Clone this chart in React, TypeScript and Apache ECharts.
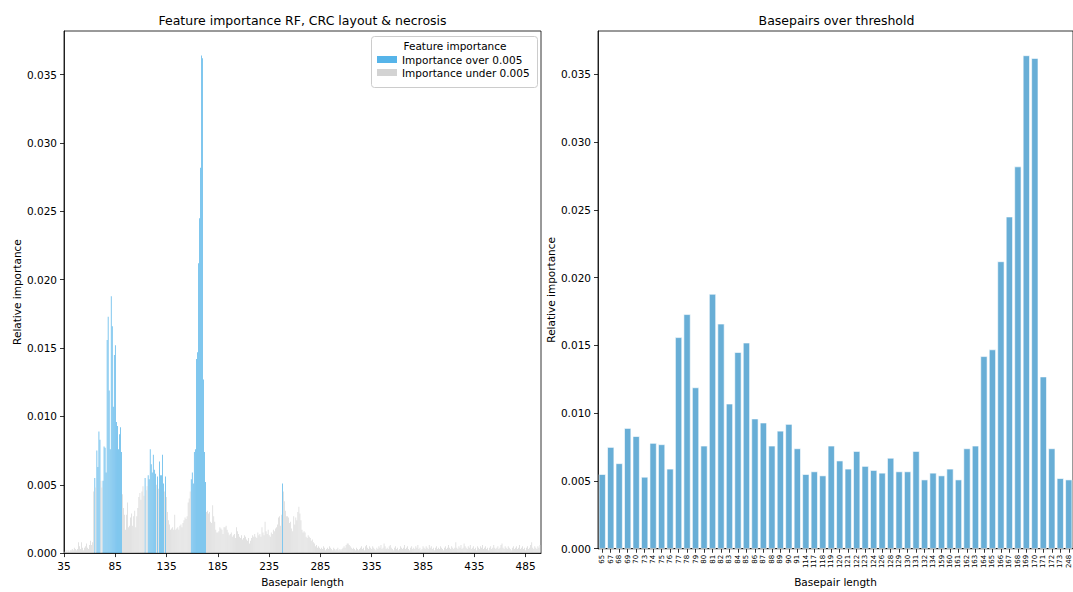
import React, { useEffect, useRef } from "react";
import * as echarts from "echarts";

// Basepair lengths whose importance is over 0.005 (shown blue on the left, and as the right chart)
const overLengths = [
  65, 67, 68, 69, 70, 73, 74, 75, 76, 77, 78, 79, 80, 81, 82, 83, 84, 85, 86, 87, 88, 89, 90, 91,
  114, 117, 118, 119, 120, 121, 122, 123, 124, 126, 128, 129, 130, 131, 132, 134,
  159, 160, 161, 162, 163, 164, 165, 166, 167, 168, 169, 170, 171, 172, 173, 248,
];
const overValues = [
  0.0055, 0.0075, 0.0063, 0.0089, 0.0083, 0.0053, 0.0078, 0.0077, 0.0059, 0.0156, 0.0173, 0.0119,
  0.0076, 0.0188, 0.0166, 0.0107, 0.0145, 0.0152, 0.0096, 0.0093, 0.0076, 0.0087, 0.0092, 0.0074,
  0.0055, 0.0057, 0.0054, 0.0076, 0.0065, 0.0059, 0.0072, 0.0061, 0.0058, 0.0056, 0.0067, 0.0057,
  0.0057, 0.0072, 0.0051, 0.0056, 0.0054, 0.0059, 0.0051, 0.0074, 0.0076, 0.0142, 0.0147, 0.0212,
  0.0245, 0.0282, 0.0364, 0.0362, 0.0127, 0.0074, 0.0052, 0.0051,
];

// Importance under 0.005, one value per basepair length from 35 to 499 (null where over)
const underStart = 35;
const underValues = [
  // 35-44
  0.0001, 0.0001, 0.0002, 0.0001, 0.0002, 0.0001, 0.0002, 0.0002, 0.0003, 0.0002,
  // 45-54
  0.0004, 0.0003, 0.0002, 0.0003, 0.0008, 0.0005, 0.0003, 0.0008, 0.0004, 0.0002,
  // 55-64
  0.0004, 0.0005, 0.0007, 0.0004, 0.0003, 0.0006, 0.0009, 0.0006, 0.0008, 0.0045,
  // 65-74
  null, 0.0048, null, null, null, null, 0.0053, 0.0048, null, null,
  // 75-84
  null, null, null, null, null, null, null, null, null, null,
  // 85-94
  null, null, null, null, null, null, null, 0.0043, 0.0033, 0.0028,
  // 95-104
  0.0017, 0.0028, 0.0037, 0.0019, 0.002, 0.0026, 0.0029, 0.002, 0.0027, 0.0031,
  // 105-114
  0.0019, 0.0027, 0.0033, 0.0041, 0.0044, 0.0039, 0.0045, 0.0049, 0.0042, null,
  // 115-124
  0.0046, 0.0049, null, null, null, null, null, null, null, null,
  // 125-134
  0.005, null, 0.0047, null, null, null, null, null, 0.0045, null,
  // 135-144
  0.0041, 0.003, 0.0024, 0.0021, 0.0017, 0.0018, 0.0019, 0.0017, 0.0028, 0.0017,
  // 145-154
  0.0018, 0.0019, 0.0017, 0.002, 0.0021, 0.0019, 0.0022, 0.0024, 0.0026, 0.0025,
  // 155-164
  0.0027, 0.0037, 0.004, 0.0045, null, null, null, null, null, null,
  // 165-174
  null, null, null, null, null, null, null, null, null, 0.003,
  // 175-184
  0.0031, 0.0029, 0.003, 0.0023, 0.0022, 0.0035, 0.0027, 0.0023, 0.0017, 0.0015,
  // 185-194
  0.0015, 0.0016, 0.0019, 0.0018, 0.0017, 0.0014, 0.0019, 0.0019, 0.002, 0.0017,
  // 195-204
  0.0015, 0.0013, 0.0014, 0.0015, 0.0012, 0.0013, 0.0014, 0.0011, 0.0019, 0.0016,
  // 205-214
  0.0014, 0.0012, 0.0011, 0.0013, 0.001, 0.0011, 0.0013, 0.0012, 0.001, 0.0009,
  // 215-224
  0.0011, 0.0007, 0.0009, 0.0011, 0.0013, 0.0012, 0.0014, 0.0012, 0.0011, 0.0015,
  // 225-234
  0.0013, 0.0014, 0.0012, 0.0019, 0.0015, 0.0013, 0.0023, 0.0016, 0.0014, 0.0017,
  // 235-244
  0.0013, 0.0012, 0.0015, 0.0014, 0.0017, 0.0016, 0.0018, 0.0019, 0.0021, 0.0026,
  // 245-254
  0.0027, 0.002, 0.0028, null, 0.0045, 0.0038, 0.0031, 0.0027, 0.0027, 0.0026,
  // 255-264
  0.0022, 0.0023, 0.0018, 0.0016, 0.0027, 0.0021, 0.0026, 0.0024, 0.003, 0.0034,
  // 265-274
  0.0029, 0.0024, 0.0017, 0.0015, 0.0016, 0.0015, 0.0012, 0.0011, 0.0013, 0.0012,
  // 275-284
  0.0011, 0.0009, 0.001, 0.0008, 0.0007, 0.0005, 0.0006, 0.0004, 0.0005, 0.0004,
  // 285-294
  0.0003, 0.0004, 0.0003, 0.0005, 0.0004, 0.0002, 0.0003, 0.0004, 0.0003, 0.0005,
  // 295-304
  0.0004, 0.0003, 0.0002, 0.0004, 0.0003, 0.0002, 0.0003, 0.0004, 0.0002, 0.0003,
  // 305-314
  0.0002, 0.0003, 0.0004, 0.0005, 0.0004, 0.0006, 0.0007, 0.0007, 0.0006, 0.0005,
  // 315-324
  0.0004, 0.0003, 0.0004, 0.0003, 0.0002, 0.0004, 0.0003, 0.0002, 0.0003, 0.0004,
  // 325-334
  0.0005, 0.0003, 0.0004, 0.0002, 0.0005, 0.0006, 0.0004, 0.0003, 0.0005, 0.0004,
  // 335-344
  0.0003, 0.0005, 0.0004, 0.0003, 0.0002, 0.0004, 0.0003, 0.0005, 0.0004, 0.0006,
  // 345-354
  0.0003, 0.0004, 0.0007, 0.0005, 0.0003, 0.0004, 0.0003, 0.0005, 0.0006, 0.0004,
  // 355-364
  0.0003, 0.0002, 0.0004, 0.0005, 0.0003, 0.0004, 0.0002, 0.0003, 0.0005, 0.0004,
  // 365-374
  0.0003, 0.0004, 0.0006, 0.0003, 0.0004, 0.0005, 0.0003, 0.0002, 0.0004, 0.0005,
  // 375-384
  0.0003, 0.0004, 0.0003, 0.0005, 0.0004, 0.0006, 0.0003, 0.0004, 0.0002, 0.0003,
  // 385-394
  0.0005, 0.0004, 0.0003, 0.0005, 0.0004, 0.0003, 0.0006, 0.0004, 0.0005, 0.0003,
  // 395-404
  0.0004, 0.0002, 0.0004, 0.0005, 0.0003, 0.0004, 0.0003, 0.0005, 0.0004, 0.0003,
  // 405-414
  0.0002, 0.0004, 0.0005, 0.0003, 0.0004, 0.0006, 0.0004, 0.0003, 0.0005, 0.0004,
  // 415-424
  0.0003, 0.0004, 0.0008, 0.0004, 0.0003, 0.0005, 0.0004, 0.0006, 0.0003, 0.0004,
  // 425-434
  0.0007, 0.0005, 0.0004, 0.0003, 0.0005, 0.0004, 0.0006, 0.0003, 0.0004, 0.0005,
  // 435-444
  0.0003, 0.0004, 0.0002, 0.0005, 0.0004, 0.0003, 0.0005, 0.0004, 0.0006, 0.0003,
  // 445-454
  0.0004, 0.0005, 0.0003, 0.0004, 0.0002, 0.0004, 0.0005, 0.0003, 0.0004, 0.0006,
  // 455-464
  0.0004, 0.0003, 0.0004, 0.0005, 0.0003, 0.0004, 0.0006, 0.0007, 0.0004, 0.0003,
  // 465-474
  0.0005, 0.0004, 0.0003, 0.0005, 0.0004, 0.0003, 0.0002, 0.0004, 0.0005, 0.0003,
  // 475-484
  0.0004, 0.0005, 0.0003, 0.0004, 0.0006, 0.0003, 0.0004, 0.0005, 0.0003, 0.0004,
  // 485-494
  0.0002, 0.0004, 0.0005, 0.0003, 0.0004, 0.0006, 0.0008, 0.0004, 0.0003, 0.0005,
  // 495-499
  0.0004, 0.0003, 0.0005, 0.0004, 0.0006,
];

const xTicks = [35, 85, 135, 185, 235, 285, 335, 385, 435, 485];
const yTicks = [0, 0.005, 0.01, 0.015, 0.02, 0.025, 0.03, 0.035];

const leftTitle = "Feature importance RF, CRC layout & necrosis";
const rightTitle = "Basepairs over threshold";
const overName = "Importance over 0.005";
const underName = "Importance under 0.005";

export default function App() {
  const ref = useRef<HTMLDivElement>(null);

  useEffect(() => {
    if (!ref.current) return;
    const chart = echarts.init(ref.current, null, { renderer: "svg" });

    const underData: [number, number][] = [];
    underValues.forEach((v, i) => {
      if (v !== null) underData.push([underStart + i, v as number]);
    });
    const overData = overLengths.map((b, i) => [b, overValues[i]]);
    const rightCategories = overLengths.map(String);

    const font = "DejaVu Sans";
    const black = "#000";
    const yAxisCommon = (gridIndex: number) => ({
      gridIndex,
      type: "value",
      min: 0,
      max: 0.0382,
      interval: 0.005,
      name: "Relative importance",
      nameLocation: "middle",
      nameGap: 42,
      nameTextStyle: { fontSize: 10.5, color: black, fontFamily: font },
      axisLine: { show: true, lineStyle: { color: black, width: 0.8 } },
      axisTick: { show: true, length: 4, customValues: yTicks, lineStyle: { color: black, width: 0.8 } },
      axisLabel: {
        customValues: yTicks,
        fontSize: 10.5,
        color: black,
        fontFamily: font,
        margin: 7,
        formatter: (v: number) => v.toFixed(3),
      },
      splitLine: { show: false },
    });

    chart.setOption({
      animation: false,
      textStyle: { fontFamily: font },
      grid: [
        { left: 64, top: 31, width: 477, height: 525, show: true, borderColor: black, borderWidth: 0.8 },
        { left: 598, top: 31, width: 477, height: 525, show: true, borderColor: black, borderWidth: 0.8 },
      ],
      xAxis: [
        {
          gridIndex: 0,
          type: "value",
          min: 35,
          max: 500,
          interval: 50,
          name: "Basepair length",
          nameLocation: "middle",
          nameGap: 20,
          nameTextStyle: { fontSize: 10.5, color: black, fontFamily: font },
          axisLine: { show: true, lineStyle: { color: black, width: 0.8 } },
          axisTick: { show: true, length: 4, customValues: xTicks, lineStyle: { color: black, width: 0.8 } },
          axisLabel: { customValues: xTicks, fontSize: 10.5, color: black, fontFamily: font, margin: 7 },
          splitLine: { show: false },
        },
        {
          gridIndex: 1,
          type: "category",
          data: rightCategories,
          name: "Basepair length",
          nameLocation: "middle",
          nameGap: 24,
          nameTextStyle: { fontSize: 10.5, color: black, fontFamily: font },
          axisLine: { show: true, lineStyle: { color: black, width: 0.8 } },
          axisTick: { show: true, alignWithLabel: true, interval: 0, length: 4, lineStyle: { color: black, width: 0.8 } },
          axisLabel: { interval: 0, rotate: 90, fontSize: 7, color: black, fontFamily: font, margin: 6 },
          splitLine: { show: false },
        },
      ],
      yAxis: [yAxisCommon(0), yAxisCommon(1)],
      legend: {
        data: [overName, underName],
        orient: "vertical",
        left: 377,
        top: 54,
        padding: 0,
        itemWidth: 20,
        itemHeight: 7,
        itemGap: 2,
        icon: "rect",
        textStyle: { fontSize: 10.5, color: black, fontFamily: font },
        z: 10,
      },
      graphic: [
        {
          type: "text",
          x: 302.5,
          y: 20,
          style: { text: leftTitle, fontSize: 12.5, fill: black, fontFamily: font, textAlign: "center", textVerticalAlign: "middle" },
        },
        {
          type: "text",
          x: 836.5,
          y: 20,
          style: { text: rightTitle, fontSize: 12.5, fill: black, fontFamily: font, textAlign: "center", textVerticalAlign: "middle" },
        },
        {
          type: "rect",
          z: 5,
          shape: { x: 371.5, y: 36.5, width: 166, height: 51, r: 3 },
          style: { fill: "rgba(255,255,255,0.8)", stroke: "#cccccc", lineWidth: 1 },
        },
        {
          type: "text",
          z: 6,
          x: 455,
          y: 46,
          style: { text: "Feature importance", fontSize: 10.5, fill: black, fontFamily: font, textAlign: "center", textVerticalAlign: "middle" },
        },
      ],
      series: [
        {
          name: overName,
          type: "bar",
          xAxisIndex: 0,
          yAxisIndex: 0,
          data: overData,
          barWidth: 0.75,
          barMinWidth: 0.1,
          barGap: "-100%",
          itemStyle: { color: "#56B4E9" },
        },
        {
          name: underName,
          type: "bar",
          xAxisIndex: 0,
          yAxisIndex: 0,
          data: underData,
          barWidth: 0.65,
          barMinWidth: 0.1,
          barGap: "-100%",
          itemStyle: { color: "#d3d3d3" },
        },
        {
          name: "Basepairs over threshold",
          type: "bar",
          xAxisIndex: 1,
          yAxisIndex: 1,
          data: overValues,
          barWidth: "82%",
          itemStyle: { color: "#68aed6", borderColor: "#ffffff", borderWidth: 0.6 },
        },
      ],
    });

    return () => chart.dispose();
  }, []);

  return (
    <div
      ref={ref}
      style={{ position: "fixed", left: 0, top: 0, width: 1073, height: 592, background: "#fff" }}
    />
  );
}
